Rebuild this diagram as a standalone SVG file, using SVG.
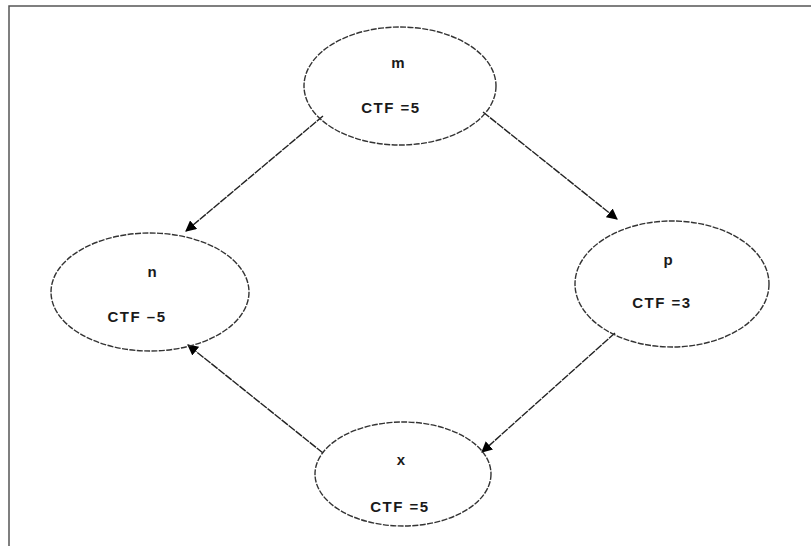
<svg xmlns="http://www.w3.org/2000/svg" width="811" height="546" viewBox="0 0 811 546">
<style>
.node{fill:none;stroke:#333;stroke-width:1.4;stroke-dasharray:6 1.4}
.edge{fill:none;stroke:#222;stroke-width:1.4;stroke-dasharray:8 1}
.lbl{font-family:"Liberation Sans",Arial,sans-serif;font-weight:bold;font-size:15px;fill:#1a1a1a;text-anchor:middle}
.val{font-family:"Liberation Sans",Arial,sans-serif;font-weight:bold;font-size:15px;fill:#1a1a1a;text-anchor:middle;letter-spacing:1.5px}
.frame{stroke:#555;stroke-width:1.5;fill:none}
</style>
<defs>
<marker id="ah" viewBox="0 0 10 10" refX="9" refY="5" markerWidth="11" markerHeight="11" markerUnits="userSpaceOnUse" orient="auto">
<path d="M0,0 L10,5 L0,10 z" fill="#000"/>
</marker>
</defs>
<rect width="811" height="546" fill="#fff"/>
<path class="frame" d="M9,546 V6 H811"/>
<g id="edges">
<line class="edge" x1="323" y1="116" x2="186" y2="231" marker-end="url(#ah)"/>
<line class="edge" x1="483" y1="112" x2="617" y2="219" marker-end="url(#ah)"/>
<line class="edge" x1="615" y1="333" x2="482" y2="452" marker-end="url(#ah)"/>
<line class="edge" x1="323" y1="453" x2="188" y2="345" marker-end="url(#ah)"/>
</g>
<g id="node-m">
<ellipse class="node" cx="400" cy="86" rx="96" ry="59"/>
<text class="lbl" x="398" y="68">m</text>
<text class="val" x="391" y="113">CTF =5</text>
</g>
<g id="node-n">
<ellipse class="node" cx="150" cy="292" rx="99" ry="59"/>
<text class="lbl" x="152" y="277">n</text>
<text class="val" x="137" y="322">CTF –5</text>
</g>
<g id="node-p">
<ellipse class="node" cx="672" cy="284" rx="97" ry="63"/>
<text class="lbl" x="668" y="265">p</text>
<text class="val" x="662" y="308">CTF =3</text>
</g>
<g id="node-x">
<ellipse class="node" cx="403" cy="474" rx="88" ry="52"/>
<text class="lbl" x="401" y="465">x</text>
<text class="val" x="400" y="512">CTF =5</text>
</g>
</svg>
